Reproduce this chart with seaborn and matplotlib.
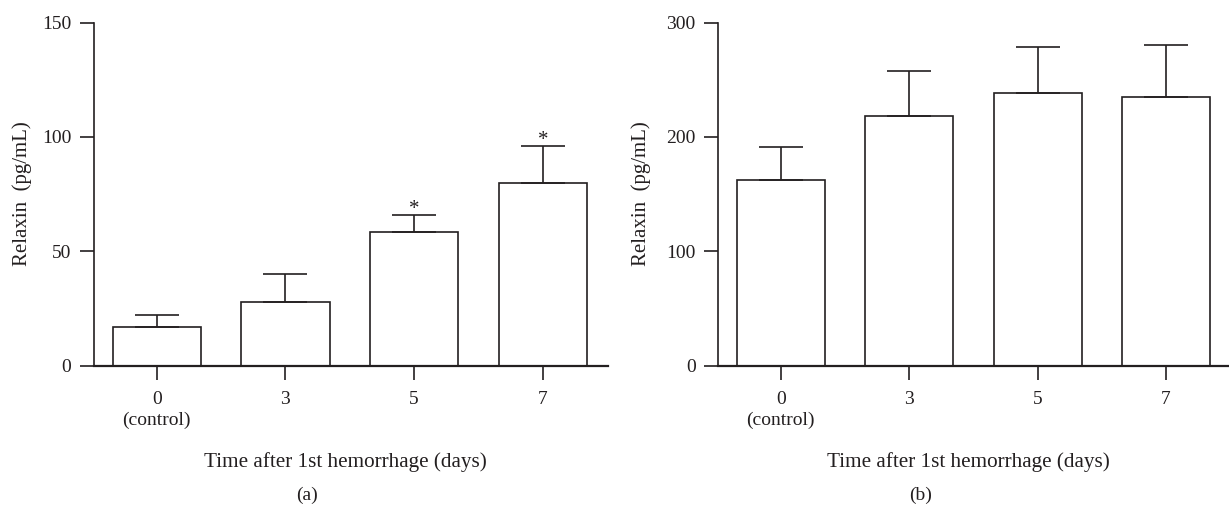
import numpy as np
import pandas as pd
import matplotlib
matplotlib.use("Agg")
import matplotlib.pyplot as plt
import seaborn as sns

# ---- data ----
days = ["0\n(control)", "3", "5", "7"]
relaxin_a = [16.8, 28.0, 58.3, 79.9]
sd_a = [5.5, 12.1, 7.6, 16.1]
sig_a = ["", "", "*", "*"]
relaxin_b = [162.3, 218.6, 238.1, 234.9]
sd_b = [28.9, 39.4, 40.5, 45.2]
yticks_a = [0, 50, 100, 150]
yticks_b = [0, 100, 200, 300]
xlabel = "Time after 1st hemorrhage (days)"
ylabel = "Relaxin  (pg/mL)"
panel_labels = ["(a)", "(b)"]

sns.set_theme(style="white")
plt.rcParams["font.family"] = ["Liberation Serif", "DejaVu Serif"]
INK = "#231f20"
plt.rcParams.update({
    "text.color": INK, "axes.labelcolor": INK,
    "xtick.color": INK, "ytick.color": INK,
    "axes.edgecolor": INK,
})

fig = plt.figure(figsize=(12.29, 5.12), dpi=100)
ax_a = fig.add_axes([0.0761, 0.2861, 0.4186, 0.6696])
ax_b = fig.add_axes([0.5840, 0.2861, 0.4160, 0.6696])


def panel(ax, vals, sds, yticks, xlim, ylab_x, sig=None):
    df = pd.DataFrame({"day": days, "val": vals})
    sns.barplot(data=df, x="day", y="val", order=days, color="white",
                saturation=1, edgecolor=INK, linewidth=1.2, width=0.685,
                errorbar=None, ax=ax)
    xs = np.arange(len(vals))
    ax.errorbar(xs, vals, yerr=[np.zeros(len(vals)), sds], fmt="none",
                ecolor=INK, elinewidth=1.2, capsize=15.8, capthick=1.2,
                zorder=5)
    top = yticks[-1]
    if sig is not None:
        for x, v, s, m in zip(xs, vals, sds, sig):
            if m:
                ax.text(x, v + s + top * 0.015, m, ha="center", va="center",
                        fontsize=15)
    ax.set_ylim(0, top)
    ax.set_xlim(*xlim)
    ax.set_yticks(yticks)
    ax.set_yticklabels([str(t) for t in yticks])
    for side in ("top", "right"):
        ax.spines[side].set_visible(False)
    ax.spines["left"].set_linewidth(1.2)
    ax.spines["bottom"].set_linewidth(1.6)
    ax.tick_params(axis="both", direction="out", length=10, width=1.2,
                   labelsize=14, left=True, bottom=True)
    ax.tick_params(axis="y", pad=6)
    ax.tick_params(axis="x", pad=8)
    for lab in ax.get_xticklabels():
        lab.set_linespacing(1.35)
    ax.set_xlabel(xlabel, fontsize=15.2)
    ax.set_ylabel(ylabel, fontsize=15)
    ax.xaxis.label.set_va("center")
    ax.yaxis.label.set_va("center")
    ax.xaxis.set_label_coords(0.49, -0.2815)
    ax.yaxis.set_label_coords(ylab_x, 0.5)


panel(ax_a, relaxin_a, sd_a, yticks_a, (-0.49, 3.505), -0.139, sig_a)
panel(ax_b, relaxin_b, sd_b, yticks_b, (-0.49, 3.49), -0.150)

fig.text(307 / 1229, 0.0332, panel_labels[0], ha="center", va="center", fontsize=14)
fig.text(921 / 1229, 0.0332, panel_labels[1], ha="center", va="center", fontsize=14)

fig.savefig("out.png", dpi=100)
